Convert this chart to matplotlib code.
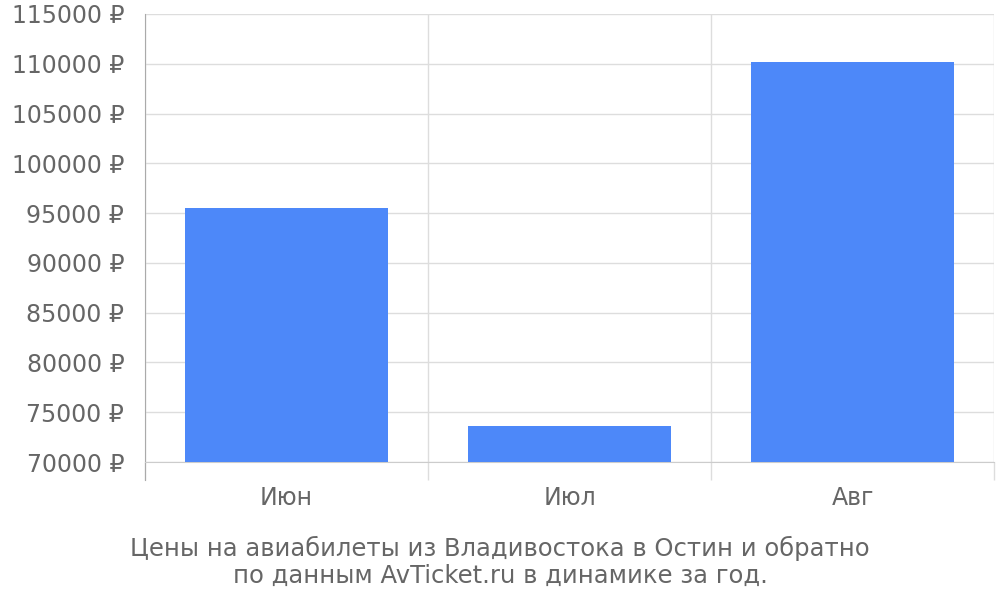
import numpy as np
import matplotlib
matplotlib.use("Agg")
import matplotlib.pyplot as plt

# Data
months = ["Июн", "Июл", "Авг"]
prices = [95500, 73600, 110200]
y_ticks = list(range(70000, 115001, 5000))
caption = "Цены на авиабилеты из Владивостока в Остин и обратно\nпо данным AvTicket.ru в динамике за год."

text_color = "#666666"
bar_color = "#4d88f9"

fig = plt.figure(figsize=(10, 6), dpi=100)
ax = fig.add_axes([0.145, 0.23, 0.849, 0.7467])

x = np.arange(len(months))
ax.bar(x, prices, width=0.72, color=bar_color, zorder=3)

ax.set_ylim(70000, 115000)
ax.set_xlim(-0.5, len(months) - 0.5)
ax.set_yticks(y_ticks)
ax.set_yticklabels([f"{v} ₽" for v in y_ticks])

# boundaries between categories as major ticks, labels as minor ticks
ax.set_xticks(np.arange(len(months) + 1) - 0.5)
ax.set_xticklabels([])
ax.set_xticks(x, minor=True)
ax.set_xticklabels(months, minor=True)

ax.tick_params(axis="y", length=0, pad=15, labelsize=17, labelcolor=text_color)
ax.tick_params(axis="x", which="major", length=13, width=1, color="#dddddd")
ax.tick_params(axis="x", which="minor", length=0, pad=17, labelsize=17, labelcolor=text_color)

ax.grid(True, which="major", color="#dddddd", linewidth=1, zorder=0)
ax.set_axisbelow(True)

for side in ["top", "right"]:
    ax.spines[side].set_visible(False)
ax.spines["left"].set_color("#aaaaaa")
ax.spines["left"].set_bounds(70000 - 45000 * 18 / 448, 115000)
ax.spines["left"].set_clip_on(False)
ax.spines["bottom"].set_color("#cccccc")

fig.text(0.5, 0.063, caption, ha="center", va="center", fontsize=17.5,
         color=text_color, linespacing=1.15)

fig.savefig("out.png", dpi=100)
